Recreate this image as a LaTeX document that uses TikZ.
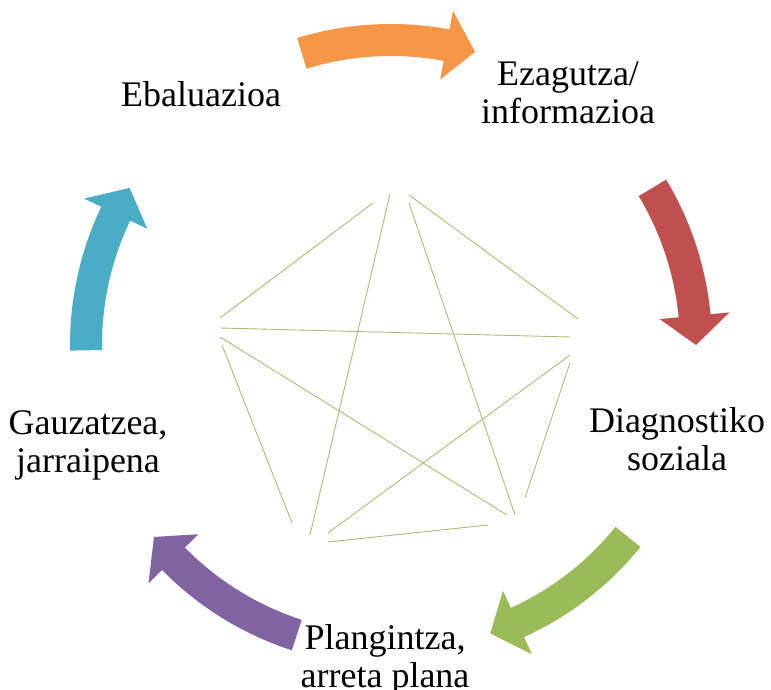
\documentclass[tikz,border=0pt]{standalone}
\usepackage{fontspec}
\setmainfont{Liberation Serif}
\definecolor{arrOrange}{RGB}{247,150,70}
\definecolor{arrRed}{RGB}{192,80,77}
\definecolor{arrGreen}{RGB}{155,187,89}
\definecolor{arrPurple}{RGB}{128,100,162}
\definecolor{arrCyan}{RGB}{75,172,198}
\definecolor{starline}{RGB}{176,186,118}
\newcommand\blockarc[3]{%
  \begin{scope}[shift={(391pt,345pt)}]
    \fill[#1] (#2:321pt) arc[start angle=#2, end angle={#3+5.5}, radius=321pt]
      -- ({#3+5.5}:340pt) -- (#3:305pt) -- ({#3+5.5}:270pt) -- ({#3+5.5}:289pt)
      arc[start angle={#3+5.5}, end angle=#2, radius=289pt] -- cycle;
  \end{scope}}
\begin{document}
\begin{tikzpicture}[x=1pt,y=1pt,
  lbl/.style={align=center, inner sep=0pt, font=\fontsize{36}{38}\selectfont},
  sline/.style={draw=starline, line width=0.9pt}]
\useasboundingbox (0,0) rectangle (771,690);
% curved block arrows
\blockarc{arrOrange}{107}{74}
\blockarc{arrRed}{31}{0}
\blockarc{arrGreen}{-39}{-71}
\blockarc{arrPurple}{-108}{-141}
\blockarc{arrCyan}{181}{149}
% pentagon and star lines
\coordinate (a1) at (220,372); \coordinate (b1) at (373,487);
\coordinate (a2) at (390,496); \coordinate (b2) at (310,155);
\coordinate (a3) at (409,495); \coordinate (b3) at (578,371);
\coordinate (a4) at (409,487); \coordinate (b4) at (515,175);
\coordinate (a5) at (220,362); \coordinate (b5) at (570,353);
\coordinate (a6) at (220,353); \coordinate (b6) at (507,175);
\coordinate (a7) at (222,345); \coordinate (b7) at (292,167);
\coordinate (a8) at (570,335); \coordinate (b8) at (328,157);
\coordinate (a9) at (570,327); \coordinate (b9) at (525,192);
\coordinate (a10) at (328,148); \coordinate (b10) at (488,165);
\foreach \i in {1,...,10} { \draw[sline] (a\i) -- (b\i); }
% labels
\node[lbl, anchor=base] (ebal) at (201,583) {Ebaluazioa};
\node[lbl] (ezag) at (568,597) {Ezagutza/\\informazioa};
\node[lbl] (diag) at (677,251) {Diagnostiko\\soziala};
\node[lbl] (plan) at (385,30) {Plangintza,\\arreta plana};
\node[lbl] (gauz) at (88,245) {Gauzatzea,\\jarraipena};
\end{tikzpicture}
\end{document}
